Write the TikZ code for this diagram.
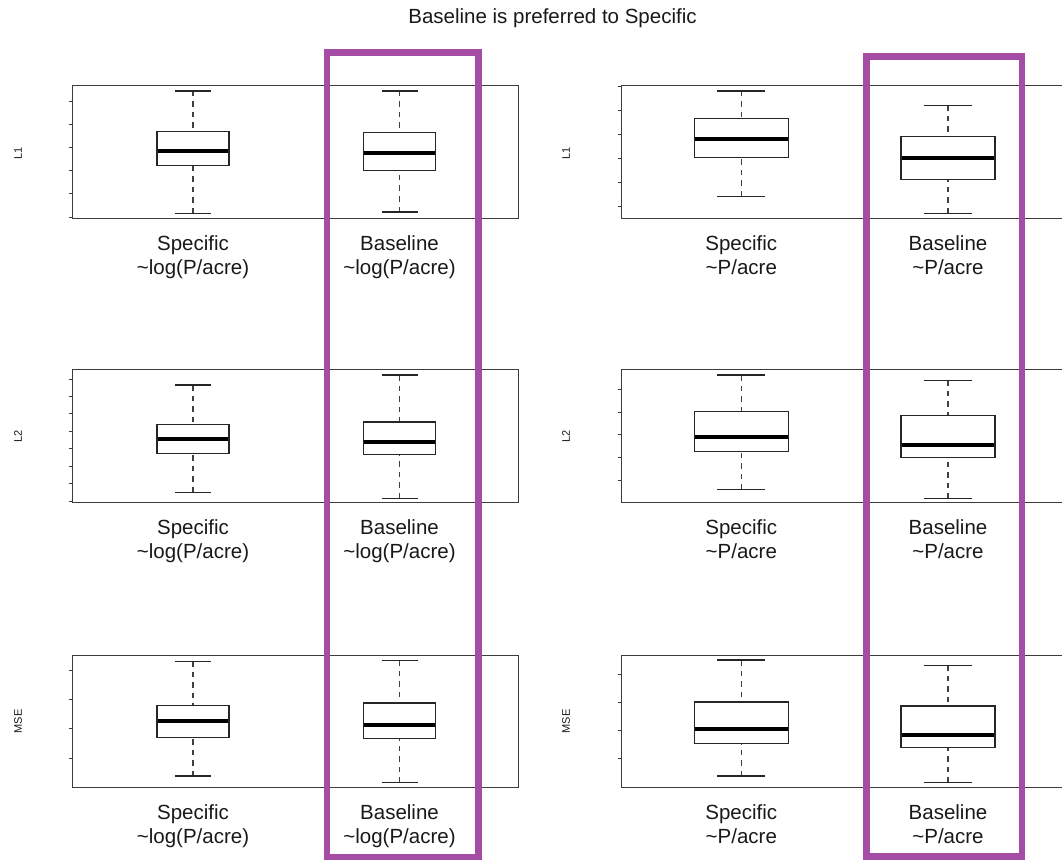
\documentclass[tikz,border=0pt]{standalone}
\usepackage{fontspec}
\setmainfont{Liberation Sans}
\definecolor{hlpurple}{RGB}{165,76,165}
\definecolor{framegray}{RGB}{60,60,60}
\tikzset{
  frame/.style={draw=framegray, line width=1pt},
  tick/.style={draw=framegray, line width=1pt},
  whisk/.style={draw=black!75, line width=1.1pt, dash pattern=on 5.5pt off 5pt},
  capl/.style={draw=black!85, line width=1.3pt},
  boxl/.style={draw=black!85, line width=1.4pt, fill=white},
  medl/.style={draw=black, line width=4pt},
  hl/.style={draw=hlpurple, line width=6.5pt},
  lab/.style={font=\fontsize{20.5}{24}\selectfont, anchor=base, text=black!90, inner sep=0pt},
  ylab/.style={font=\fontsize{11}{13}\selectfont, rotate=90, text=black!90, inner sep=0pt},
  ttl/.style={font=\fontsize{20.5}{24}\selectfont, anchor=base, text=black!90, inner sep=0pt}
}
% #1 x, #2 half width, #3 cap half, #4 whisker top, #5 q3, #6 median, #7 q1, #8 whisker bottom
\newcommand\bxp[8]{%
  \draw[whisk] (#1,#4) -- (#1,#5);
  \draw[whisk] (#1,#8) -- (#1,#7);
  \draw[capl] ({#1-#3},#4) -- ({#1+#3},#4);
  \draw[capl] ({#1-#3},#8) -- ({#1+#3},#8);
  \draw[boxl] ({#1-#2},#5) rectangle ({#1+#2},#7);
  \draw[medl] ({#1-#2+0.7},#6) -- ({#1+#2-0.7},#6);
}
% ticks: #1 x of axis, #2 first y, #3 step, #4 last index
\newcommand\yticks[4]{%
  \foreach \k in {0,...,#4} {\draw[tick] ({#1-4},{#2+#3*\k}) -- (#1,{#2+#3*\k});}
}
% labels: #1 name, #2 x, #3 base y, #4 line1, #5 line2
\newcommand\xlab[5]{%
  \node[lab] (#1a) at (#2,#3) {#4};
  \node[lab] (#1b) at (#2,{#3+24.5}) {#5};
}
\begin{document}
\begin{tikzpicture}[x=1pt,y=-1pt]
\useasboundingbox (0,0) rectangle (1062,861);
\fill[white] (0,0) rectangle (1062,861);
\clip (0,0) rectangle (1062,861);

\node[ttl] (title) at (552.5,24) {Baseline is preferred to Specific};

% ---------- frames ----------
\draw[frame] (72.7,86) rectangle (518.5,218.7);
\draw[frame] (72.7,369.7) rectangle (518.5,502.7);
\draw[frame] (72.7,655) rectangle (518.5,787.7);
\draw[frame] (621.5,86) rectangle (1080,218.7);
\draw[frame] (621.5,369.7) rectangle (1080,502.7);
\draw[frame] (621.5,655) rectangle (1080,787.7);

% ---------- ticks ----------
\yticks{72.7}{101.5}{23.1}{5}
\yticks{72.7}{379}{17.47}{7}
\yticks{72.7}{670}{29.4}{3}
\yticks{621.5}{86.7}{24}{5}
\yticks{621.5}{389.3}{22.7}{4}
\yticks{621.5}{674.3}{28.1}{3}

% ---------- y labels ----------
\node[ylab] (yl1) at (18,153) {L1};
\node[ylab] (yl2) at (18,436.5) {L2};
\node[ylab] (yl3) at (18,721.5) {MSE};
\node[ylab] (yr1) at (566,153) {L1};
\node[ylab] (yr2) at (566,436.5) {L2};
\node[ylab] (yr3) at (566,721.5) {MSE};

% ---------- boxplots ----------
\bxp{193}{36}{18}{91}{131.3}{150.7}{165.3}{213.3}
\bxp{399.5}{36}{18}{91}{132.3}{153.3}{170.3}{212}
\bxp{741.3}{47}{24}{91}{118.3}{139.3}{157.3}{196.3}
\bxp{948}{47}{24}{105.3}{136.7}{158.3}{179.7}{213.3}

\bxp{193}{36}{18}{385}{424.3}{438.7}{453.3}{492.3}
\bxp{399.5}{36}{18}{375}{422}{442.3}{454.7}{498.3}
\bxp{741.3}{47}{24}{375}{411.7}{437.3}{451.7}{489.7}
\bxp{948}{47}{24}{380.3}{415.3}{445.3}{457.3}{498.7}

\bxp{193}{36}{18}{661.3}{705.7}{721.3}{737.3}{776}
\bxp{399.5}{36}{18}{660.3}{703}{725.3}{738.7}{782.7}
\bxp{741.3}{47}{24}{660}{702}{729.3}{743.7}{776}
\bxp{948}{47}{24}{665.3}{706}{735.3}{747.7}{782.7}

% ---------- x labels ----------
\xlab{ls1}{193}{250.2}{Specific}{\textasciitilde log(P/acre)}
\xlab{lb1}{399.5}{250.2}{Baseline}{\textasciitilde log(P/acre)}
\xlab{rs1}{741.3}{250.2}{Specific}{\textasciitilde P/acre}
\xlab{rb1}{948}{250.2}{Baseline}{\textasciitilde P/acre}

\xlab{ls2}{193}{534.2}{Specific}{\textasciitilde log(P/acre)}
\xlab{lb2}{399.5}{534.2}{Baseline}{\textasciitilde log(P/acre)}
\xlab{rs2}{741.3}{534.2}{Specific}{\textasciitilde P/acre}
\xlab{rb2}{948}{534.2}{Baseline}{\textasciitilde P/acre}

\xlab{ls3}{193}{819.2}{Specific}{\textasciitilde log(P/acre)}
\xlab{lb3}{399.5}{819.2}{Baseline}{\textasciitilde log(P/acre)}
\xlab{rs3}{741.3}{819.2}{Specific}{\textasciitilde P/acre}
\xlab{rb3}{948}{819.2}{Baseline}{\textasciitilde P/acre}

% ---------- highlight rectangles ----------
\draw[hl] (327,52.3) rectangle (478.3,857);
\draw[hl] (866.3,56.5) rectangle (1022,856.5);
\end{tikzpicture}
\end{document}
